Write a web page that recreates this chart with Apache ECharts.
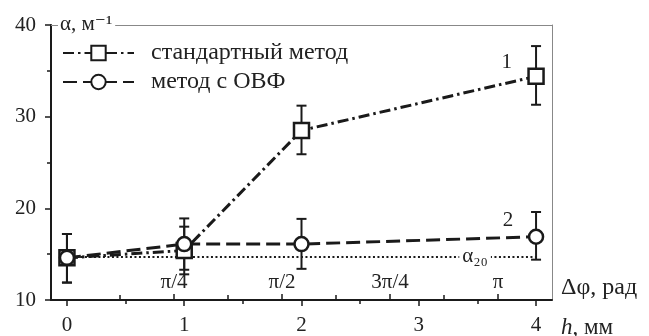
<!DOCTYPE html>
<html>
<head>
<meta charset="utf-8">
<script src="https://cdn.jsdelivr.net/npm/echarts@6/dist/echarts.min.js"></script>
<style>
  html, body { margin: 0; padding: 0; background: #fff; }
  #chart { width: 649px; height: 336px; }
</style>
</head>
<body>
<div id="chart"></div>
<script>
// толщина слоя h, мм
var hValues = [0, 1, 2, 4];
// стандартный метод
var stdValues = [14.6, 15.4, 28.5, 34.4];
var stdLow = [11.9, 12.8, 25.9, 31.3];
var stdHigh = [17.2, 18.0, 31.2, 37.7];
// метод с ОВФ
var ovfValues = [14.6, 16.1, 16.1, 16.9];
var ovfLow = [11.9, 13.3, 13.4, 14.4];
var ovfHigh = [17.2, 18.9, 18.85, 19.6];
// уровень alpha_20
var alpha20 = 14.7;

var hTicks = [0, 1, 2, 3, 4];
var hMinorTicks = [0.5, 1.5, 2.5, 3.5];
// фаза в единицах pi/8
var phiTicks = [2, 4, 6, 8];
var phiLabels = ['π/4', 'π/2', '3π/4', 'π'];
var phiMinorTicks = [1, 3, 5, 7];

var FONT = '"Liberation Serif", "DejaVu Serif", serif';
var INK = '#1a1a1a';

function pairs(xs, ys) {
  var out = [];
  for (var i = 0; i < xs.length; i++) out.push([xs[i], ys[i]]);
  return out;
}
function triples(xs, lo, hi) {
  var out = [];
  for (var i = 0; i < xs.length; i++) out.push([xs[i], lo[i], hi[i]]);
  return out;
}

function renderErr(params, api) {
  var x = api.value(0);
  var lo = api.coord([x, api.value(1)]);
  var hi = api.coord([x, api.value(2)]);
  var w = 5;
  var st = { stroke: INK, lineWidth: 2 };
  return {
    type: 'group',
    children: [
      { type: 'line', shape: { x1: hi[0], y1: hi[1], x2: lo[0], y2: lo[1] }, style: st },
      { type: 'line', shape: { x1: hi[0] - w, y1: hi[1], x2: hi[0] + w, y2: hi[1] }, style: st },
      { type: 'line', shape: { x1: lo[0] - w, y1: lo[1], x2: lo[0] + w, y2: lo[1] }, style: st }
    ]
  };
}

var hMin = -0.136, hMax = 4.136;
var phiMin = -0.28, phiMax = 9.0;

var chart = echarts.init(document.getElementById('chart'));
chart.setOption({
  animation: false,
  grid: { left: 51, right: 97, top: 25, bottom: 34 },
  legend: {
    data: ['стандартный метод', 'метод с ОВФ'],
    orient: 'vertical',
    left: 62,
    top: 41,
    padding: 0,
    itemWidth: 71,
    itemHeight: 18,
    itemGap: 5,
    textStyle: { fontFamily: FONT, fontSize: 24, color: '#222', padding: [0, 0, 0, 12] }
  },
  xAxis: [
    {
      type: 'value', min: hMin, max: hMax, position: 'bottom',
      axisLine: { onZero: false, lineStyle: { color: INK, width: 2 } },
      axisTick: { customValues: hTicks, length: 6, lineStyle: { color: INK, width: 1.5 } },
      axisLabel: { customValues: hTicks, margin: 15, fontFamily: FONT, fontSize: 21, color: '#222' },
      splitLine: { show: false }
    },
    {
      type: 'value', min: hMin, max: hMax, position: 'bottom',
      axisLine: { show: false, onZero: false },
      axisTick: { customValues: hMinorTicks, length: 4, lineStyle: { color: INK, width: 1.5 } },
      axisLabel: { show: false },
      splitLine: { show: false }
    },
    {
      type: 'value', min: phiMin, max: phiMax, position: 'bottom',
      axisLine: { show: false, onZero: false },
      axisTick: { customValues: phiTicks, inside: true, length: 6, lineStyle: { color: INK, width: 1.5 } },
      axisLabel: {
        customValues: phiTicks, inside: true, margin: 7,
        fontFamily: FONT, fontSize: 21, color: '#222',
        formatter: function(v) { return phiLabels[phiTicks.indexOf(v)]; }
      },
      splitLine: { show: false }
    },
    {
      type: 'value', min: phiMin, max: phiMax, position: 'bottom',
      axisLine: { show: false, onZero: false },
      axisTick: { customValues: phiMinorTicks, inside: true, length: 5, lineStyle: { color: INK, width: 1.5 } },
      axisLabel: { show: false },
      splitLine: { show: false }
    },
    {
      type: 'value', min: hMin, max: hMax, position: 'top',
      axisLine: { onZero: false, lineStyle: { color: '#888', width: 1 } },
      axisTick: { show: false },
      axisLabel: { show: false },
      splitLine: { show: false }
    }
  ],
  yAxis: [
    {
      type: 'value', min: 10, max: 40, interval: 10,
      axisLine: { show: true, onZero: false, lineStyle: { color: INK, width: 2 } },
      axisTick: { show: true, length: 6, lineStyle: { color: INK, width: 1.5 } },
      minorTick: { show: true, splitNumber: 2, length: 4, lineStyle: { color: INK, width: 1.5 } },
      axisLabel: { margin: 15, fontFamily: FONT, fontSize: 21, color: '#222' },
      splitLine: { show: false }
    },
    {
      type: 'value', min: 10, max: 40, position: 'right',
      axisLine: { show: true, onZero: false, lineStyle: { color: '#888', width: 1 } },
      axisTick: { show: false },
      axisLabel: { show: false },
      splitLine: { show: false }
    }
  ],
  graphic: [
    {
      type: 'text', left: 58, top: 14, z: 100,
      style: { text: 'α, м⁻¹', font: '21px ' + FONT, fill: '#222', backgroundColor: '#fff', padding: [0, 3, 0, 2] }
    },
    {
      type: 'text', left: 561, top: 276, z: 100,
      style: { text: 'Δφ, рад', font: '24px ' + FONT, fill: '#222' }
    },
    {
      type: 'text', left: 561, top: 316, z: 100,
      style: {
        text: '{i|h}, мм', font: '23px ' + FONT, fill: '#222',
        rich: { i: { fontStyle: 'italic', fontSize: 23, fontFamily: FONT } }
      }
    }
  ],
  series: [
    {
      name: 'alpha20', type: 'line', data: [[0, alpha20], [4, alpha20]],
      symbol: 'none', silent: true, z: 1,
      lineStyle: { color: INK, width: 2, type: [2, 2.5] }
    },
    {
      name: 'errStd', type: 'custom', renderItem: renderErr, z: 2,
      data: triples(hValues, stdLow, stdHigh), encode: { x: 0, y: [1, 2] }
    },
    {
      name: 'errOvf', type: 'custom', renderItem: renderErr, z: 2,
      data: triples(hValues, ovfLow, ovfHigh), encode: { x: 0, y: [1, 2] }
    },
    {
      name: 'стандартный метод', type: 'line', data: pairs(hValues, stdValues), z: 3,
      symbol: 'rect', symbolSize: 15,
      lineStyle: { color: INK, width: 3, type: [11, 4, 2.5, 4] },
      itemStyle: { color: '#fff', borderColor: INK, borderWidth: 2.5 }
    },
    {
      name: 'метод с ОВФ', type: 'line', data: pairs(hValues, ovfValues), z: 4,
      symbol: 'circle', symbolSize: 14,
      lineStyle: { color: INK, width: 3, type: [14, 6] },
      itemStyle: { color: '#fff', borderColor: INK, borderWidth: 2.5 }
    },
    {
      name: 'labels', type: 'scatter', z: 5, symbolSize: 0, silent: true,
      itemStyle: { opacity: 1 },
      data: [
        { value: [3.75, 35.9], label: { formatter: '1' } },
        { value: [3.76, 18.7], label: { formatter: '2' } },
        { value: [3.48, alpha20], label: { formatter: 'α₂₀', backgroundColor: '#fff', padding: [0, 3, 0, 3] } }
      ],
      label: { show: true, position: 'inside', fontFamily: FONT, fontSize: 21, color: '#222', opacity: 1 }
    }
  ]
});
</script>
</body>
</html>
